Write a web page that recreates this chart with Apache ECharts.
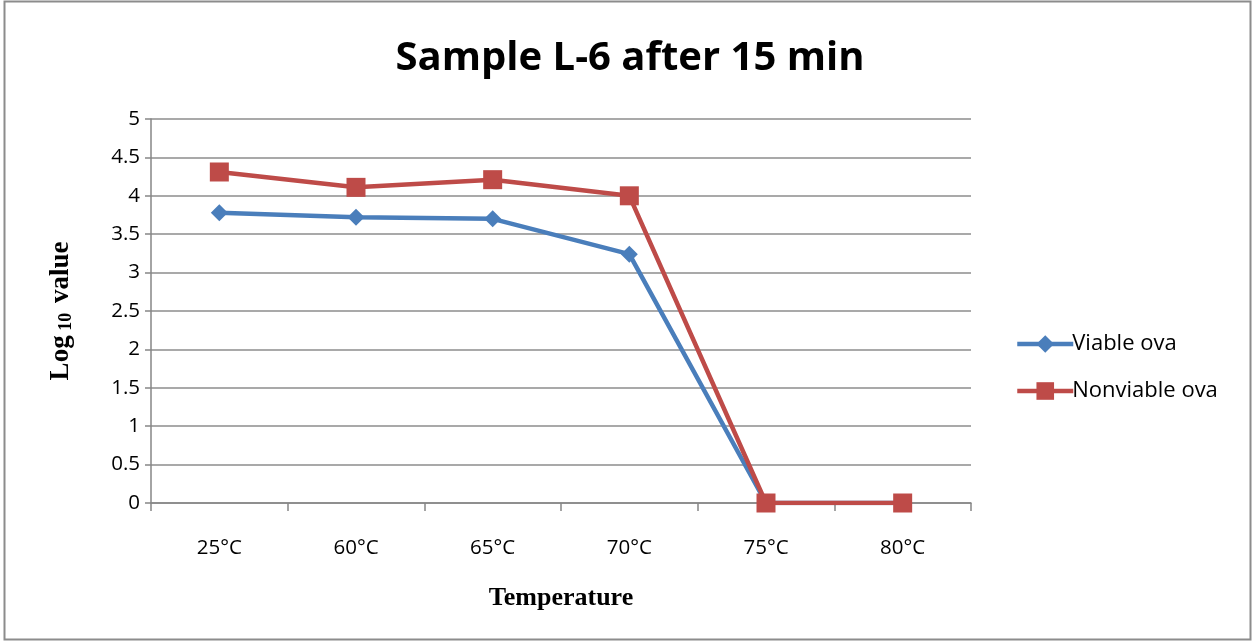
<!DOCTYPE html>
<html><head><meta charset="utf-8">
<script src="https://cdn.jsdelivr.net/npm/echarts@6/dist/echarts.min.js"></script>
<style>html,body{margin:0;padding:0;background:#fff}#c{width:1255px;height:642px}</style>
</head><body><div id="c"></div>
<script>
const categories = ['25°C','60°C','65°C','70°C','75°C','80°C'];
const viableOva = [3.78, 3.72, 3.70, 3.24, 0, 0];
const nonviableOva = [4.31, 4.11, 4.21, 4.0, 0, 0];
const yTicks = [0, 0.5, 1, 1.5, 2, 2.5, 3, 3.5, 4, 4.5, 5];

const chart = echarts.init(document.getElementById('c'));
chart.setOption({
  animation: false,
  backgroundColor: '#fff',
  graphic: [{type:'rect', shape:{x:4.5,y:1.5,width:1246,height:638}, style:{fill:'none', stroke:'#8c8c8c', lineWidth:2}}],
  title: {text:'Sample L-6 after 15 min', left: 625, top: 34, textAlign:'center',
    textStyle:{fontFamily:'Open Sans', fontWeight:'bold', fontSize:40, color:'#000'}},
  grid: {left:151, right:284, top:119, bottom:139},
  legend: {orient:'vertical', left:1010, top:328, itemGap:25, itemWidth:56, itemHeight:22,
    lineStyle:{width:4.5},
    textStyle:{fontFamily:'Open Sans', fontSize:22, color:'#000', padding:[0,0,0,-6]},
    data:['Viable ova','Nonviable ova']},
  xAxis: {type:'category', data:categories, boundaryGap:true,
    name:'Temperature', nameLocation:'middle', nameGap:82,
    nameTextStyle:{fontFamily:'Liberation Serif', fontWeight:'bold', fontSize:26, color:'#000'},
    axisLine:{lineStyle:{color:'#868686', width:1.5}},
    axisTick:{show:true, length:8, lineStyle:{color:'#868686', width:1.5}},
    axisLabel:{fontFamily:'Open Sans', fontSize:20.5, color:'#000', margin:35}},
  yAxis: {type:'value', min:0, max:5, interval:0.5,
    name:'{a|Log}{b| 10}{a| value}', nameLocation:'middle', nameGap:76, nameRotate:90,
    nameTextStyle:{rich:{
      a:{fontFamily:'Liberation Serif', fontWeight:'bold', fontSize:27, color:'#000'},
      b:{fontFamily:'Liberation Serif', fontWeight:'bold', fontSize:18, color:'#000', verticalAlign:'bottom', padding:[10,3,0,0]}}},
    axisLine:{show:true, lineStyle:{color:'#868686', width:1.5}},
    axisTick:{show:true, length:6, lineStyle:{color:'#868686', width:1.5}},
    axisLabel:{fontFamily:'Open Sans', fontSize:20.5, color:'#000', margin:11,
      formatter: v => String(v)},
    splitLine:{lineStyle:{color:'#8c8c8c', width:1.5}}},
  series: [
    {name:'Viable ova', type:'line', data:viableOva, symbol:'diamond', symbolSize:17,
      itemStyle:{color:'#4a7ebb'}, lineStyle:{width:4.5, color:'#4a7ebb'}, z:2},
    {name:'Nonviable ova', type:'line', data:nonviableOva, symbol:'rect', symbolSize:19,
      itemStyle:{color:'#be4b48'}, lineStyle:{width:4.5, color:'#be4b48'}, z:3}
  ]
});
</script></body></html>
